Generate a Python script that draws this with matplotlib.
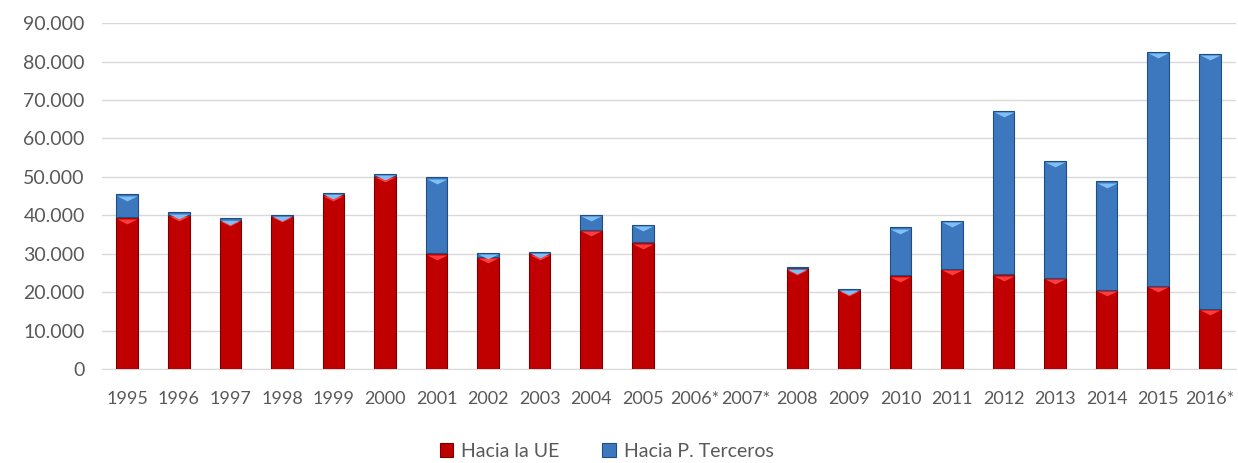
import matplotlib.pyplot as plt
import numpy as np
from matplotlib.ticker import FuncFormatter

plt.rcParams['font.family'] = ['Lato', 'DejaVu Sans']

years = ['1995', '1996', '1997', '1998', '1999', '2000', '2001', '2002', '2003',
         '2004', '2005', '2006*', '2007*', '2008', '2009', '2010', '2011', '2012',
         '2013', '2014', '2015', '2016*']
hacia_ue = [39500, 40100, 38900, 39800, 45500, 50300, 30100, 29200, 30100,
            36200, 33000, np.nan, np.nan, 26200, 20600, 24400, 26000, 24600,
            23700, 20600, 21700, 15600]
hacia_terceros = [6000, 700, 300, 300, 400, 500, 19800, 1000, 400,
                  4000, 4600, np.nan, np.nan, 300, 300, 12500, 12600, 42600,
                  30400, 28200, 60800, 66500]

red, red_edge, red_light = '#C00000', '#7A0000', '#FF3B3B'
blue, blue_edge, blue_light = '#3D78BE', '#1F4E85', '#7EC0F5'

fig = plt.figure(figsize=(12.38, 4.63), dpi=100)
ax = fig.add_axes([0.082, 0.203, 0.916, 0.747])

x = np.arange(len(years))
ue = np.array(hacia_ue, dtype=float)
ter = np.array(hacia_terceros, dtype=float)
w = 0.42

ax.bar(x, ue, width=w, color=red, edgecolor=red_edge, linewidth=0.8,
       label='Hacia la UE', zorder=3)
ax.bar(x, ter, width=w, bottom=ue, color=blue, edgecolor=blue_edge, linewidth=0.8,
       label='Hacia P. Terceros', zorder=3)

# bevel highlight: small light chevron at the top of each segment
chevron = [(-1, 0), (1, 0), (0, -0.5), (-1, 0)]
ax.scatter(x, ue - 350, marker=chevron, s=200, color=red_light, linewidths=0, zorder=4)
ax.scatter(x, ue + ter - 350, marker=chevron, s=200, color=blue_light, linewidths=0, zorder=4)

ax.set_xlim(-0.5, len(years) - 0.5)
ax.set_ylim(0, 90000)
ax.set_yticks(np.arange(0, 90001, 10000))
ax.yaxis.set_major_formatter(FuncFormatter(lambda v, p: f'{int(v):,}'.replace(',', '.')))
ax.set_xticks(x)
ax.set_xticklabels(years)

ax.grid(axis='y', color='#D9D9D9', linewidth=1, zorder=0)
ax.tick_params(axis='both', length=0, colors='#595959')
ax.tick_params(axis='y', labelsize=14, pad=12)
ax.tick_params(axis='x', labelsize=13, pad=16)
for s in ['top', 'right', 'left']:
    ax.spines[s].set_visible(False)
ax.spines['bottom'].set_color('#D9D9D9')

fig.legend(*ax.get_legend_handles_labels(), loc='center', bbox_to_anchor=(0.49, 0.025),
           ncol=2, frameon=False, fontsize=14, labelcolor='#595959',
           handlelength=0.7, handleheight=0.7, handletextpad=0.4, columnspacing=2.2)

fig.savefig('out.png', dpi=100)
